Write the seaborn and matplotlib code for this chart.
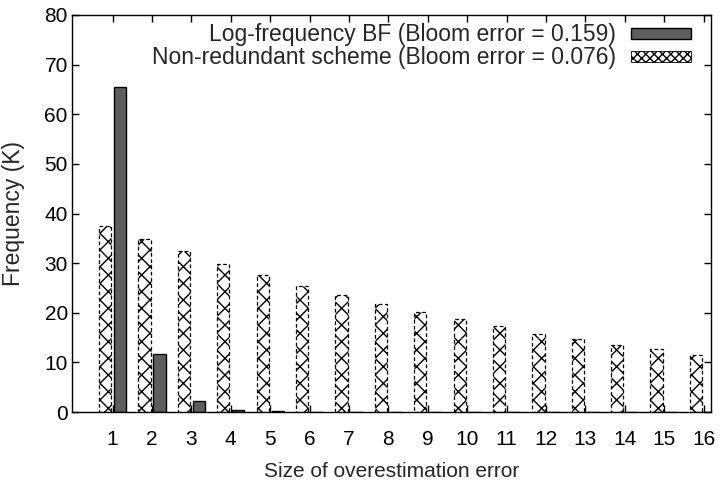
import matplotlib
matplotlib.use("Agg")
import matplotlib.pyplot as plt
import seaborn as sns
import pandas as pd
from matplotlib.patches import Patch

categories = [str(i) for i in range(1, 17)]
log_freq = [65.4, 11.6, 2.2, 0.4, 0.15, 0.08, 0.04, 0.02, 0.01, 0.01, 0.0, 0.0, 0.0, 0.0, 0.0, 0.0]
non_redundant = [37.5, 34.8, 32.5, 29.9, 27.6, 25.4, 23.5, 21.8, 20.2, 18.8, 17.4, 15.8, 14.8, 13.5, 12.6, 11.4]
series_names = ["Log-frequency BF (Bloom error = 0.159)",
                "Non-redundant scheme (Bloom error = 0.076)"]
y_ticks = [0, 10, 20, 30, 40, 50, 60, 70, 80]

sns.set_theme(style="white")
plt.rcParams["font.family"] = ["Liberation Sans", "DejaVu Sans"]
FS = 15

df = pd.DataFrame({
    "cat": categories * 2,
    "val": non_redundant + log_freq,
    "series": [series_names[1]] * 16 + [series_names[0]] * 16,
})

fig = plt.figure(figsize=(7.26, 4.82), dpi=100)
ax = fig.add_axes([72 / 726, 1 - 412 / 482, (711 - 72) / 726, (412 - 15) / 482])

sns.barplot(data=df, x="cat", y="val", hue="series",
            hue_order=[series_names[1], series_names[0]],
            order=categories, width=0.76, gap=0.18,
            palette=["white", "#5e5e5e"], ax=ax, legend=False,
            saturation=1)

n = len(categories)
for i, p in enumerate(ax.patches[: 2 * n]):
    if i < n:
        p.set_facecolor("white")
        p.set_edgecolor("black")
        p.set_hatch("xx")
        p.set_linestyle((0, (3, 2)))
        p.set_linewidth(0.9)
    else:
        p.set_facecolor("#5e5e5e")
        p.set_edgecolor("black")
        p.set_linewidth(1.0)

ax.set_xlim(-1.03, 15.19)
ax.set_ylim(0, 80)
ax.set_yticks(y_ticks)
ax.set_yticklabels([str(v) for v in y_ticks], fontsize=FS)
ax.set_xticks(range(n))
ax.set_xticklabels(categories, fontsize=FS)
ax.tick_params(direction="in", length=5, width=1, top=True, right=True,
               bottom=True, left=True, colors="black")
ax.tick_params(axis="x", pad=13)
ax.tick_params(axis="y", pad=3)
for s in ax.spines.values():
    s.set_visible(True)
    s.set_color("black")
    s.set_linewidth(1.0)

ax.set_xlabel("Size of overestimation error", fontsize=FS, labelpad=9)
ax.set_ylabel("Frequency (K)", fontsize=16.5, labelpad=14)

handles = [Patch(facecolor="#5e5e5e", edgecolor="black", linewidth=1.0),
           Patch(facecolor="white", edgecolor="black", hatch="xxxx", linewidth=0.6)]
ax.legend(handles, series_names, loc="upper right",
          bbox_to_anchor=(1 - 10 / 639, 1 + 2 / 397), frameon=False,
          markerfirst=False, fontsize=16.5, handlelength=2.6, handleheight=0.35,
          labelspacing=0.0, handletextpad=0.65, borderaxespad=0.35,
          borderpad=0.1)

fig.savefig("out.png", dpi=100)
